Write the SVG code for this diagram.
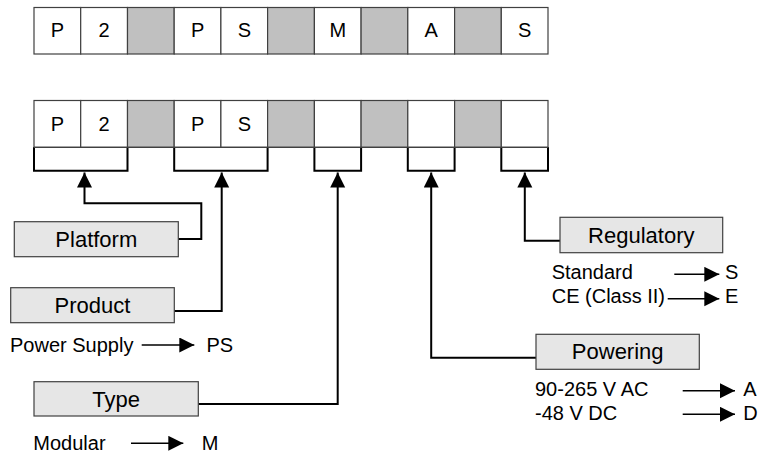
<svg xmlns="http://www.w3.org/2000/svg" width="766" height="455" viewBox="0 0 766 455">
<defs>
<style>
.cell{fill:#ffffff;stroke:#404040;stroke-width:1.2}
.gray{fill:#c0c0c0;stroke:#404040;stroke-width:1.2}
.ct{font-family:"Liberation Sans",Arial,sans-serif;font-size:20px;fill:#000;text-anchor:middle}
.br{fill:none;stroke:#000;stroke-width:2}
.lbl{fill:#e6e6e6;stroke:#404040;stroke-width:1.2}
.lt{font-family:"Liberation Sans",Arial,sans-serif;font-size:22px;fill:#000;text-anchor:middle}
.st{font-family:"Liberation Sans",Arial,sans-serif;font-size:20px;fill:#000}
.conn{fill:none;stroke:#000;stroke-width:2}
.arr{fill:none;stroke:#000;stroke-width:1.6}
</style>
<marker id="ah" markerUnits="userSpaceOnUse" markerWidth="16" markerHeight="16" refX="15" refY="7.5" orient="auto" viewBox="0 0 16 16">
<path d="M0,0 L15,7.5 L0,15 z" fill="#000"/>
</marker>
</defs>

<g id="code-row">
<rect class="cell" x="34" y="7.5" width="46.7" height="46.5"/>
<rect class="cell" x="80.7" y="7.5" width="46.8" height="46.5"/>
<rect class="gray" x="127.5" y="7.5" width="46.7" height="46.5"/>
<rect class="cell" x="174.2" y="7.5" width="46.7" height="46.5"/>
<rect class="cell" x="220.9" y="7.5" width="46.7" height="46.5"/>
<rect class="gray" x="267.6" y="7.5" width="46.8" height="46.5"/>
<rect class="cell" x="314.4" y="7.5" width="46.7" height="46.5"/>
<rect class="gray" x="361.1" y="7.5" width="46.7" height="46.5"/>
<rect class="cell" x="407.8" y="7.5" width="46.8" height="46.5"/>
<rect class="gray" x="454.6" y="7.5" width="46.7" height="46.5"/>
<rect class="cell" x="501.3" y="7.5" width="46.7" height="46.5"/>
<text class="ct" x="57.4" y="37.2">P</text>
<text class="ct" x="104.1" y="37.2">2</text>
<text class="ct" x="197.6" y="37.2">P</text>
<text class="ct" x="244.3" y="37.2">S</text>
<text class="ct" x="337.8" y="37.2">M</text>
<text class="ct" x="431.2" y="37.2">A</text>
<text class="ct" x="524.7" y="37.2">S</text>
</g>

<g id="template-row">
<rect class="cell" x="34" y="100.5" width="46.7" height="46.8"/>
<rect class="cell" x="80.7" y="100.5" width="46.8" height="46.8"/>
<rect class="gray" x="127.5" y="100.5" width="46.7" height="46.8"/>
<rect class="cell" x="174.2" y="100.5" width="46.7" height="46.8"/>
<rect class="cell" x="220.9" y="100.5" width="46.7" height="46.8"/>
<rect class="gray" x="267.6" y="100.5" width="46.8" height="46.8"/>
<rect class="cell" x="314.4" y="100.5" width="46.7" height="46.8"/>
<rect class="gray" x="361.1" y="100.5" width="46.7" height="46.8"/>
<rect class="cell" x="407.8" y="100.5" width="46.8" height="46.8"/>
<rect class="gray" x="454.6" y="100.5" width="46.7" height="46.8"/>
<rect class="cell" x="501.3" y="100.5" width="46.7" height="46.8"/>
<text class="ct" x="57.4" y="130.7">P</text>
<text class="ct" x="104.1" y="130.7">2</text>
<text class="ct" x="197.6" y="130.7">P</text>
<text class="ct" x="244.3" y="130.7">S</text>
<path class="br" d="M34,147.3 V170.7 H127.5 V147.3"/>
<path class="br" d="M174.2,147.3 V170.7 H267.6 V147.3"/>
<path class="br" d="M314.4,147.3 V170.7 H361.1 V147.3"/>
<path class="br" d="M407.8,147.3 V170.7 H454.6 V147.3"/>
<path class="br" d="M501.3,147.3 V170.7 H548 V147.3"/>
<line x1="34" y1="147.3" x2="548" y2="147.3" stroke="#404040" stroke-width="1.2"/>
</g>

<g id="connectors">
<path class="conn" d="M178.3,239 H201.3 V203.3 H84.5 V172.5" marker-end="url(#ah)"/>
<path class="conn" d="M174.3,311 H221.7 V172.5" marker-end="url(#ah)"/>
<path class="conn" d="M198.3,404 H337.7 V172.5" marker-end="url(#ah)"/>
<path class="conn" d="M536,357.7 H431.2 V172.5" marker-end="url(#ah)"/>
<path class="conn" d="M560,240.7 H524.8 V172.5" marker-end="url(#ah)"/>
</g>

<g id="platform">
<rect class="lbl" x="14.3" y="221.7" width="164" height="35"/>
<text class="lt" x="96.3" y="246.8">Platform</text>
</g>

<g id="product">
<rect class="lbl" x="10.7" y="287.7" width="163.6" height="35"/>
<text class="lt" x="92.5" y="312.8">Product</text>
<text class="st" x="10" y="351.7">Power Supply</text>
<line class="arr" x1="141.7" y1="345" x2="194.3" y2="345" marker-end="url(#ah)"/>
<text class="st" x="206.5" y="351.7">PS</text>
</g>

<g id="type">
<rect class="lbl" x="34" y="381.7" width="164.3" height="34.3"/>
<text class="lt" x="116.2" y="406.6">Type</text>
<text class="st" x="33.3" y="450">Modular</text>
<line class="arr" x1="131" y1="443.3" x2="183.3" y2="443.3" marker-end="url(#ah)"/>
<text class="st" x="201.7" y="450">M</text>
</g>

<g id="powering">
<rect class="lbl" x="536" y="334.3" width="163.3" height="35"/>
<text class="lt" x="617.7" y="359.4">Powering</text>
<text class="st" x="535" y="396">90-265 V AC</text>
<line class="arr" x1="682.7" y1="390.7" x2="735" y2="390.7" marker-end="url(#ah)"/>
<text class="st" x="743.3" y="396">A</text>
<text class="st" x="535" y="420">-48 V DC</text>
<line class="arr" x1="682.7" y1="414.3" x2="735" y2="414.3" marker-end="url(#ah)"/>
<text class="st" x="743.3" y="420">D</text>
</g>

<g id="regulatory">
<rect class="lbl" x="560" y="217.3" width="162.7" height="35.4"/>
<text class="lt" x="641.3" y="242.5">Regulatory</text>
<text class="st" x="551.7" y="279.3">Standard</text>
<line class="arr" x1="674.3" y1="274.3" x2="719.3" y2="274.3" marker-end="url(#ah)"/>
<text class="st" x="725" y="279.3">S</text>
<text class="st" x="551.7" y="303.3">CE (Class II)</text>
<line class="arr" x1="667.7" y1="298.7" x2="719.3" y2="298.7" marker-end="url(#ah)"/>
<text class="st" x="725" y="303.3">E</text>
</g>
</svg>
